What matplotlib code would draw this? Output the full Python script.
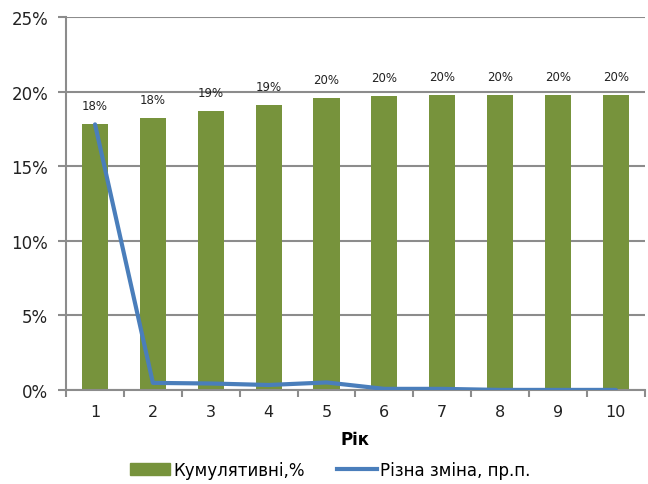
import matplotlib.pyplot as plt
import numpy as np
from matplotlib.ticker import FuncFormatter, FixedLocator
from matplotlib.patches import Patch
from matplotlib.lines import Line2D

years = [1, 2, 3, 4, 5, 6, 7, 8, 9, 10]
cumulative = [17.8, 18.2, 18.7, 19.1, 19.6, 19.7, 19.8, 19.8, 19.8, 19.8]
diff_change = [17.8, 0.47, 0.43, 0.33, 0.5, 0.07, 0.07, 0.0, 0.0, 0.0]
bar_labels = ['18%', '18%', '19%', '19%', '20%', '20%', '20%', '20%', '20%', '20%']

bar_color = '#77933C'
line_color = '#4A7EBB'
grid_color = '#8C8C8C'

fig = plt.figure(figsize=(6.48, 4.85), dpi=100)
ax = fig.add_axes([0.102, 0.194, 0.893, 0.769])

x = np.arange(len(years))
ax.bar(x, cumulative, width=0.45, color=bar_color, zorder=2)
ax.plot(x, diff_change, color=line_color, linewidth=3, zorder=3, solid_capstyle='round')

for xi, v, lab in zip(x, cumulative, bar_labels):
    ax.text(xi, v + 0.8, lab, ha='center', va='bottom', fontsize=8.5, color='#222222')

ax.set_ylim(0, 25)
ax.set_xlim(-0.5, len(years) - 0.5)
ax.set_yticks(np.arange(0, 26, 5))
ax.yaxis.set_major_formatter(FuncFormatter(lambda v, p: '%d%%' % v))
ax.grid(axis='y', color=grid_color, linewidth=1.5, zorder=0)

# ticks at category edges, labels at centres
ax.set_xticks(x)
ax.set_xticklabels([str(y) for y in years])
ax.xaxis.set_minor_locator(FixedLocator(np.arange(-0.5, len(years), 1)))
ax.tick_params(axis='x', which='major', length=0, labelsize=11.5, pad=10, colors='#222222')
ax.tick_params(axis='x', which='minor', length=5, width=1.5, color=grid_color)
ax.tick_params(axis='y', length=6, width=1.5, color=grid_color, labelsize=12, pad=7,
               labelcolor='#222222')

for s in ['top', 'right']:
    ax.spines[s].set_visible(False)
for s in ['left', 'bottom']:
    ax.spines[s].set_color(grid_color)
    ax.spines[s].set_linewidth(1.5)

ax.set_xlabel('Рік', fontsize=12, fontweight='bold', labelpad=8)

handles = [Patch(color=bar_color, label='Кумулятивні,%'),
           Line2D([0], [0], color=line_color, linewidth=3, label='Різна зміна, пр.п.')]
fig.legend(handles=handles, loc='lower center', bbox_to_anchor=(0.51, -0.02), ncol=2,
           frameon=False, fontsize=12, handlelength=2.4, handletextpad=0.2, columnspacing=1.9)

plt.savefig('out.png', dpi=100)
